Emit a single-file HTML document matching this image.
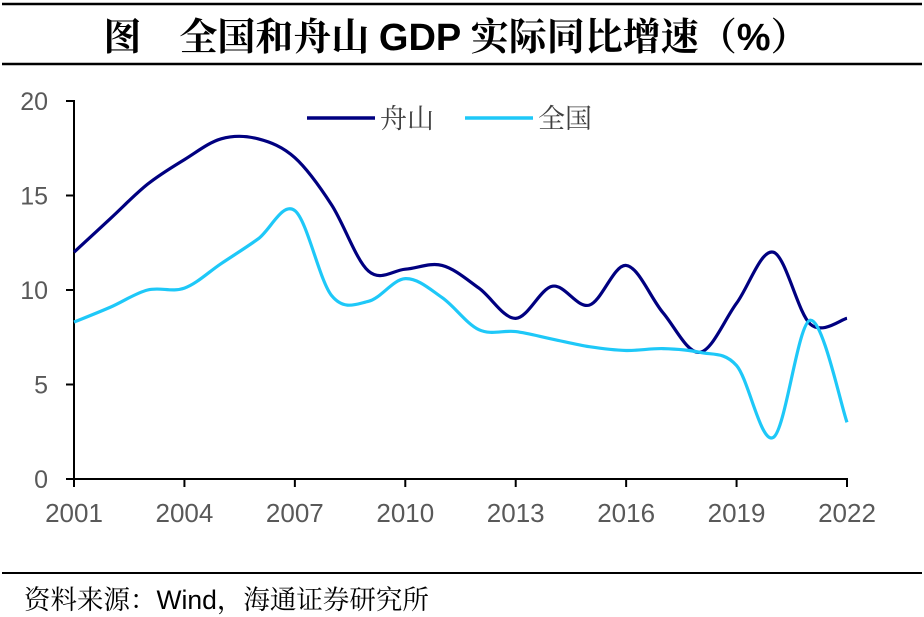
<!DOCTYPE html>
<html><head><meta charset="utf-8"><style>
body{margin:0;background:#fff;width:924px;height:617px;overflow:hidden}
svg{display:block}
</style></head><body>
<svg width="924" height="617" xmlns="http://www.w3.org/2000/svg">
<line x1="2" y1="4" x2="922" y2="4" stroke="#000" stroke-width="2.5"/>
<text x="456" y="50" text-anchor="middle" font-family="'Noto Serif CJK SC','Liberation Serif',serif" font-size="38" font-weight="bold">图　全国和舟山 <tspan font-family="'Liberation Sans',sans-serif">GDP</tspan> 实际同比增速（<tspan font-family="'Liberation Sans',sans-serif">%</tspan>）</text>
<line x1="2" y1="64" x2="922" y2="64" stroke="#000" stroke-width="2.5"/>
<g id="axes"></g>
<g id="series"></g>
<g>
<line x1="307" y1="118" x2="375" y2="118" stroke="#000080" stroke-width="3.5"/>
<text x="380" y="128" font-family="'Noto Serif CJK SC',serif" font-size="27" fill="#404040">舟山</text>
<line x1="465" y1="118" x2="533" y2="118" stroke="#1ec8f8" stroke-width="3.5"/>
<text x="538" y="128" font-family="'Noto Serif CJK SC',serif" font-size="27" fill="#404040">全国</text>
</g>
<line x1="2" y1="573" x2="922" y2="573" stroke="#000" stroke-width="2"/>
<text x="24" y="609" font-family="'Liberation Sans','Noto Serif CJK SC',sans-serif" font-size="26.5">资料来源：Wind，海通证券研究所</text>
</svg>
<script>
const years=[2001,2002,2003,2004,2005,2006,2007,2008,2009,2010,2011,2012,2013,2014,2015,2016,2017,2018,2019,2020,2021,2022];
const zhoushan=[12.0,13.8,15.6,16.9,18.0,18.0,17.0,14.5,11.0,11.1,11.3,10.1,8.5,10.2,9.2,11.3,8.8,6.7,9.3,12.0,8.2,8.5];
const national=[8.3,9.1,10.0,10.1,11.4,12.7,14.2,9.7,9.4,10.6,9.6,7.9,7.8,7.4,7.0,6.8,6.9,6.7,6.0,2.2,8.4,3.0];
const yTicks=[0,5,10,15,20];
const xTickYears=[2001,2004,2007,2010,2013,2016,2019,2022];
const NS='http://www.w3.org/2000/svg';
const x=v=>74+(v-2001)*(847-74)/21;
const y=v=>479-v*(479-101)/20;
const ax=document.getElementById('axes');
function mk(t,a,p){const e=document.createElementNS(NS,t);for(const k in a)e.setAttribute(k,a[k]);p.appendChild(e);return e;}
let l=mk('line',{x1:74,y1:100,x2:74,y2:480,stroke:'#000','stroke-width':2},ax);


l=mk('line',{x1:73,y1:479,x2:848,y2:479,stroke:'#000','stroke-width':2},ax);


yTicks.forEach(v=>{
 const t=mk('line',{x1:66,y1:y(v),x2:74,y2:y(v),stroke:'#000','stroke-width':2},ax);
 
 
 const s=mk('text',{x:48,y:y(v)+9,'text-anchor':'end','font-family':'Liberation Sans,sans-serif','font-size':25,fill:'#595959'},ax);
 s.textContent=v;
 
 
});
xTickYears.forEach(v=>{
 const t=mk('line',{x1:x(v),y1:479,x2:x(v),y2:487,stroke:'#000','stroke-width':2},ax);
 
 
 const s=mk('text',{x:x(v),y:522,'text-anchor':'middle','font-family':'Liberation Sans,sans-serif','font-size':26,fill:'#595959'},ax);
 s.textContent=v;
 
 
});
function path(vals){
 const p=vals.map((v,i)=>[x(years[i]),y(v)]);
 let d='M'+p[0][0]+','+p[0][1];
 for(let i=0;i<p.length-1;i++){
  const p0=p[i-1]||p[i],p1=p[i],p2=p[i+1],p3=p[i+2]||p2,k=1/6;
  d+=` C${p1[0]+(p2[0]-p0[0])*k},${p1[1]+(p2[1]-p0[1])*k} ${p2[0]-(p3[0]-p1[0])*k},${p2[1]-(p3[1]-p1[1])*k} ${p2[0]},${p2[1]}`;
 }
 return d;
}
const sg=document.getElementById('series');
let a=mk('path',{d:path(zhoushan),fill:'none',stroke:'#000080','stroke-width':3.2},sg);


a=mk('path',{d:path(national),fill:'none',stroke:'#1ec8f8','stroke-width':3.2},sg);


</script>
</body></html>
